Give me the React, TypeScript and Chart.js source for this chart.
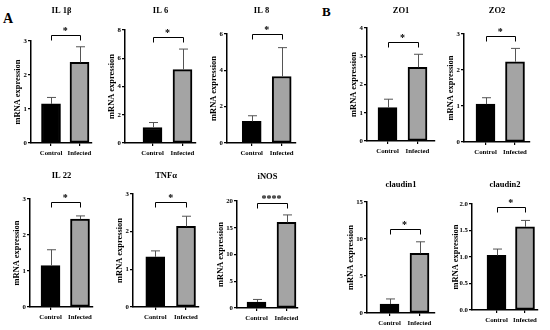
import React, { useEffect, useRef } from 'react';
import { Chart, registerables } from 'chart.js';

Chart.register(...registerables);

// ---------- data ----------
const categories = ['Control', 'Infected'];
const panelTitles = ['IL 1β', 'IL 6', 'IL 8', 'ZO1', 'ZO2', 'IL 22', 'TNFα', 'iNOS', 'claudin1', 'claudin2'];
const controlMeans = [1.15, 1.1, 1.19, 1.18, 1.05, 1.15, 1.33, 1.12, 1.21, 1.03];
const controlUpper = [1.34, 1.45, 1.5, 1.48, 1.23, 1.59, 1.49, 1.6, 1.9, 1.15];
const infectedMeans = [2.37, 5.2, 3.66, 2.61, 2.23, 2.44, 2.14, 16.0, 8.06, 1.57];
const infectedUpper = [2.83, 6.65, 5.25, 3.07, 2.6, 2.53, 2.41, 17.4, 9.62, 1.69];
const bracketLevels = [3.17, 7.5, 6.0, 3.51, 2.94, 2.91, 2.78, 19.7, 11.4, 1.94];
const significance = ['*', '*', '*', '*', '*', '*', '*', '****', '*', '*'];
const yMaxima = [3, 8, 6, 4, 3, 3, 3, 20, 15, 2];
const yStepSizes = [1, 2, 2, 1, 1, 1, 1, 5, 5, 0.5];
const yDecimals = [0, 0, 0, 0, 0, 0, 0, 0, 0, 1];
const yAxisTitle = 'mRNA expression';
const panelLetters = ['A', 'B'];

// ---------- layout (pixels on the page) ----------
// axisLeft, axisRight, topTickY, zeroY, controlCenter, infectedCenter, titleY, yTitleGap, rowTop
const panelLayout = [
  [31, 92, 41, 143, 51, 79.5, 11, 13, 0],
  [125, 196, 30, 143, 152.5, 182.5, 11, 13, 0],
  [227, 296, 34, 143, 251.7, 281.7, 10.5, 13, 0],
  [367, 435, 28, 141, 387.5, 417.5, 10.5, 13, 0],
  [464, 530, 34, 142, 485.5, 515, 11, 13, 0],
  [30, 93, 199, 307, 50.5, 80, 176, 13, 163],
  [133, 199, 194, 307, 155.3, 186, 176, 13, 163],
  [237, 298, 201, 308, 256.5, 286.5, 176.5, 16, 163],
  [367, 435, 202, 313, 389.5, 419.5, 185, 16, 163],
  [472, 538, 204, 310, 496.5, 525, 185, 16, 163],
];
const letterLayout = [
  [3, 12, 14],
  [322, 5, 13],
];

const FAMILY = '"Liberation Serif", "Times New Roman", serif';
const TITLE_SIZE = 8.5;
const TICK_SIZE = 6.8;
const YTITLE_SIZE = 8.4;
const RIGHT_PAD = 12;
const XAXIS_H = 20;
const BOTTOM_PAD = 2;

const sigPlugin = {
  id: 'sigMarks',
  afterDatasetsDraw(chart: any, _args: any, opts: any) {
    const i = opts.panel;
    const meta = chart.getDatasetMeta(0);
    const yScale = chart.scales.y;
    const ctx = chart.ctx;
    ctx.save();
    const uppers = [controlUpper[i], infectedUpper[i]];
    uppers.forEach((u: number, k: number) => {
      const bar = meta.data[k];
      if (!bar) return;
      const x = Math.round(bar.x) + 0.5;
      const yU = yScale.getPixelForValue(u);
      ctx.strokeStyle = '#555';
      ctx.lineWidth = 1;
      ctx.beginPath();
      ctx.moveTo(x, bar.y);
      ctx.lineTo(x, yU);
      ctx.moveTo(x - 4.5, yU);
      ctx.lineTo(x + 4.5, yU);
      ctx.stroke();
    });
    const x0 = meta.data[0].x;
    const x1 = meta.data[1].x;
    const yb = Math.round(yScale.getPixelForValue(bracketLevels[i])) + 0.5;
    ctx.strokeStyle = '#000';
    ctx.lineWidth = 1;
    ctx.beginPath();
    ctx.moveTo(Math.round(x0) + 0.5, yb + 5);
    ctx.lineTo(Math.round(x0) + 0.5, yb);
    ctx.lineTo(Math.round(x1) + 0.5, yb);
    ctx.lineTo(Math.round(x1) + 0.5, yb + 5);
    ctx.stroke();
    ctx.fillStyle = '#000';
    ctx.font = `bold 10px ${FAMILY}`;
    ctx.textAlign = 'center';
    ctx.textBaseline = 'alphabetic';
    ctx.fillText(significance[i], (x0 + x1) / 2, yb - 1.5);
    ctx.restore();
  },
};

function Panel({ index }: { index: number }) {
  const ref = useRef<HTMLCanvasElement | null>(null);
  const [L, R, T, B, c0, c1, titleY, gap, rowTop] = panelLayout[index];
  const yTitleLH = YTITLE_SIZE * 1.2;
  const canvasLeft = Math.round(L - (gap + yTitleLH / 2));
  const yAxisW = L - canvasLeft;
  const width = yAxisW + (R - L) + RIGHT_PAD;
  const height = B - rowTop + XAXIS_H + BOTTOM_PAD;

  useEffect(() => {
    if (!ref.current) return;
    const unit = c1 - c0;
    const xMin = -(c0 - L) / unit;
    const xMax = 1 + (R - c1) / unit;
    const titleLH = TITLE_SIZE * 1.2;
    const padT = titleY - rowTop - titleLH / 2;
    const padB = T - rowTop - padT - titleLH;
    const tickFont = { family: FAMILY, size: TICK_SIZE, weight: 'bold' as const };
    const values = [controlMeans[index], infectedMeans[index]];
    const chart = new Chart(ref.current, {
      type: 'bar',
      data: {
        datasets: [
          {
            data: categories.map((_, k) => ({ x: k, y: values[k] })),
            backgroundColor: ['#000000', '#a4a4a4'],
            borderColor: '#000000',
            borderWidth: 2,
            borderSkipped: false,
            barThickness: 19,
          } as any,
        ],
      },
      options: {
        responsive: false,
        animation: false,
        devicePixelRatio: 1,
        layout: { padding: { left: 0, top: 0, right: RIGHT_PAD, bottom: BOTTOM_PAD } },
        plugins: {
          legend: { display: false },
          tooltip: { enabled: false },
          title: {
            display: true,
            text: panelTitles[index],
            fullSize: false,
            color: '#000',
            font: { family: FAMILY, size: TITLE_SIZE, weight: 'bold' },
            padding: { top: padT, bottom: padB },
          },
          sigMarks: { panel: index },
        } as any,
        scales: {
          x: {
            type: 'linear',
            min: xMin,
            max: xMax,
            offset: false,
            afterBuildTicks: (s: any) => {
              s.ticks = categories.map((_, k) => ({ value: k }));
            },
            afterFit: (s: any) => {
              s.height = XAXIS_H;
            },
            grid: { offset: false, drawOnChartArea: false, drawTicks: true, tickLength: 3, color: '#000', lineWidth: 1.2 },
            border: { display: true, color: '#000', width: 1.5 },
            ticks: {
              callback: (v: any) => categories[v] ?? '',
              font: tickFont,
              color: '#000',
              padding: 3.5,
              autoSkip: false,
              maxRotation: 0,
            },
          },
          y: {
            type: 'linear',
            min: 0,
            max: yMaxima[index],
            afterFit: (s: any) => {
              s.width = yAxisW;
            },
            grid: { drawOnChartArea: false, drawTicks: true, tickLength: 3, color: '#000', lineWidth: 1.2 },
            border: { display: true, color: '#000', width: 1.5 },
            ticks: {
              stepSize: yStepSizes[index],
              callback: (v: any) => Number(v).toFixed(yDecimals[index]),
              font: tickFont,
              color: '#000',
              padding: 1,
              autoSkip: false,
            },
            title: {
              display: true,
              text: yAxisTitle,
              color: '#000',
              font: { family: FAMILY, size: YTITLE_SIZE, weight: 'bold' },
              padding: 0,
            },
          },
        } as any,
      },
      plugins: [sigPlugin],
    });
    return () => chart.destroy();
  }, [index]);

  return (
    <canvas
      ref={ref}
      width={width}
      height={height}
      style={{ position: 'absolute', left: canvasLeft, top: rowTop, width, height }}
    />
  );
}

export default function App() {
  return (
    <div
      style={{
        position: 'absolute',
        left: 0,
        top: 0,
        width: 550,
        height: 330,
        background: '#fff',
        overflow: 'hidden',
      }}
    >
      {panelLetters.map((letter, k) => (
        <div
          key={letter}
          style={{
            position: 'absolute',
            left: letterLayout[k][0],
            top: letterLayout[k][1],
            fontFamily: FAMILY,
            fontWeight: 'bold',
            fontSize: letterLayout[k][2],
            lineHeight: `${letterLayout[k][2]}px`,
            color: '#000',
          }}
        >
          {letter}
        </div>
      ))}
      {panelTitles.map((_, i) => (
        <Panel key={i} index={i} />
      ))}
    </div>
  );
}
